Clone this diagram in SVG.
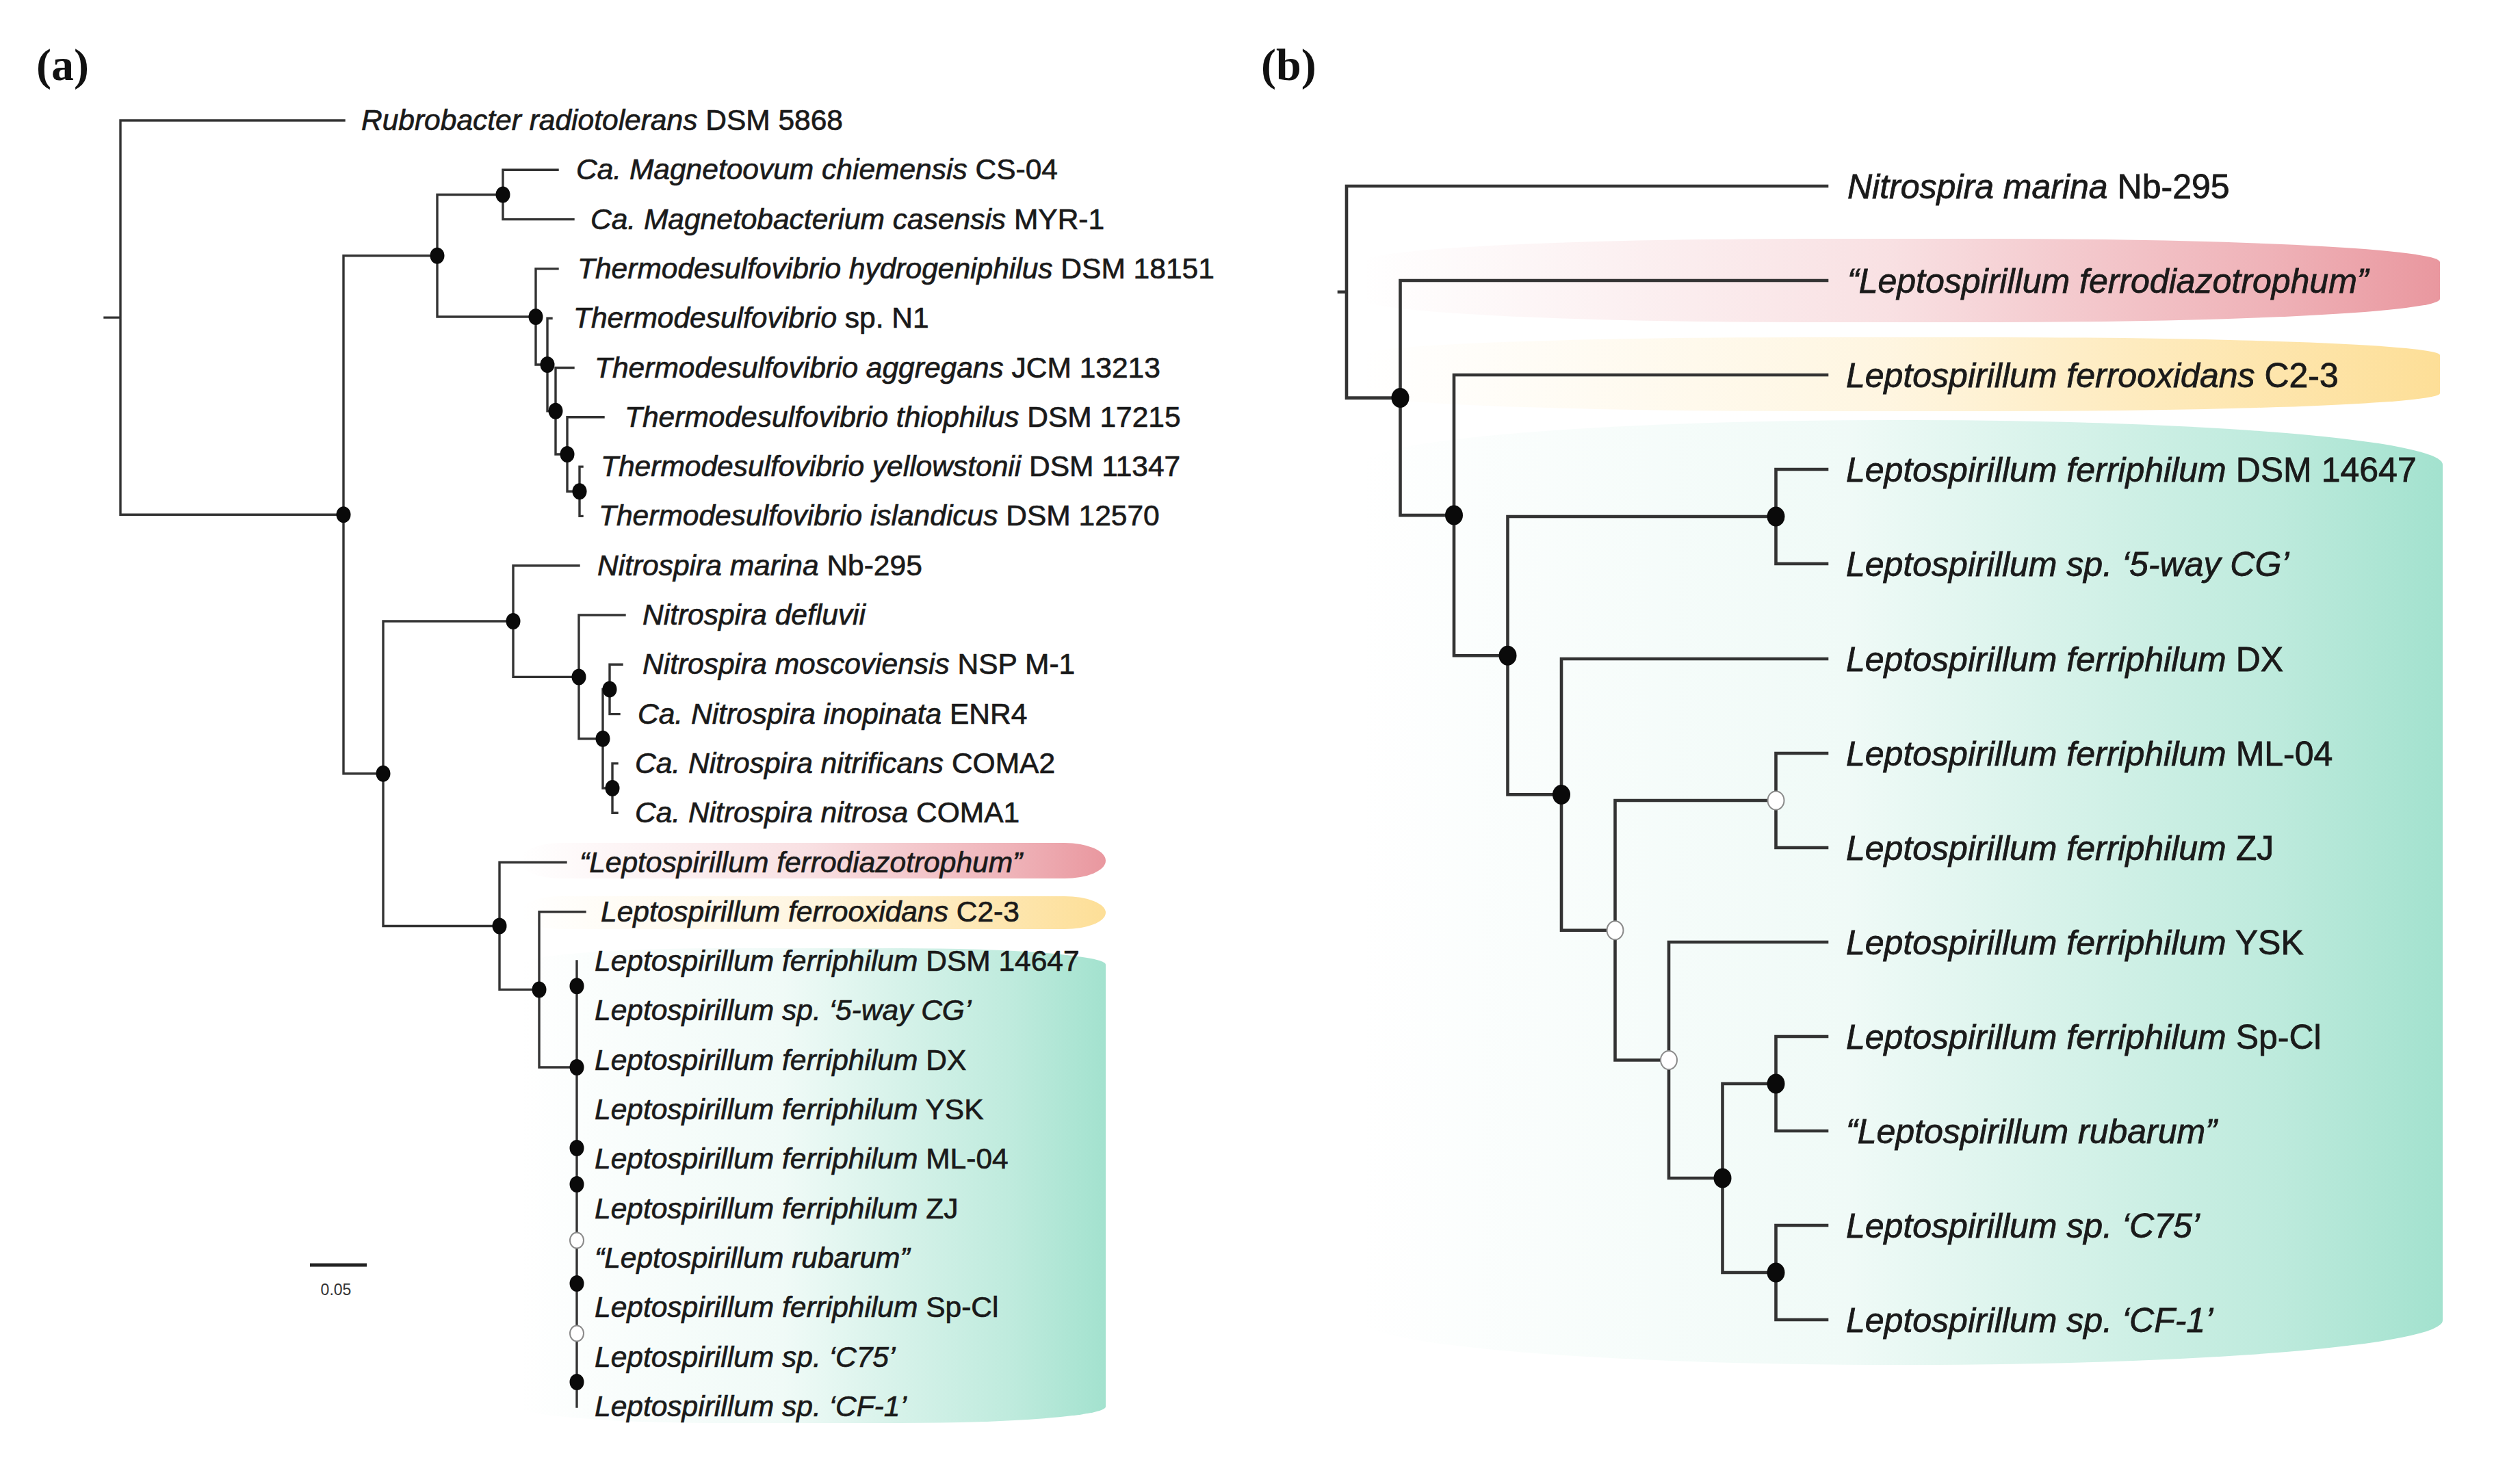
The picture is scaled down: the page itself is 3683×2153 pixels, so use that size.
<svg xmlns="http://www.w3.org/2000/svg" width="3683" height="2153" viewBox="0 0 3683 2153">
<style>
.br{fill:none;stroke:#333333;stroke-linecap:square}
.ba{stroke-width:3.4}
.bb{stroke-width:4.6}
.dot{fill:#0a0a0a}
.open{fill:#ffffff;stroke:#8a8a8a;stroke-width:2}
.la{font-family:"Liberation Sans",Arial,sans-serif;font-size:42.5px;font-style:italic;fill:#1a1a1a;stroke:#1a1a1a;stroke-width:0.7}
.lb{font-family:"Liberation Sans",Arial,sans-serif;font-size:50px;font-style:italic;fill:#1a1a1a;stroke:#1a1a1a;stroke-width:0.8}
.n{font-style:normal}
.pl{font-family:"Liberation Serif","Times New Roman",serif;font-size:66px;font-weight:bold;fill:#111}
.sc{font-family:"Liberation Sans",Arial,sans-serif;font-size:23px;fill:#333}
</style>
<defs>
<linearGradient id="gR" x1="0" y1="0" x2="1" y2="0">
<stop offset="0" stop-color="#e8929a" stop-opacity="0"/>
<stop offset="0.13" stop-color="#e8929a" stop-opacity="0.07"/>
<stop offset="0.49" stop-color="#e8929a" stop-opacity="0.28"/>
<stop offset="0.65" stop-color="#e8929a" stop-opacity="0.48"/>
<stop offset="0.84" stop-color="#e8929a" stop-opacity="0.7"/>
<stop offset="1" stop-color="#e8929a" stop-opacity="0.95"/>
</linearGradient>
<linearGradient id="gY" x1="0" y1="0" x2="1" y2="0">
<stop offset="0" stop-color="#fddd92" stop-opacity="0"/>
<stop offset="0.13" stop-color="#fddd92" stop-opacity="0.07"/>
<stop offset="0.49" stop-color="#fddd92" stop-opacity="0.28"/>
<stop offset="0.65" stop-color="#fddd92" stop-opacity="0.5"/>
<stop offset="0.84" stop-color="#fddd92" stop-opacity="0.75"/>
<stop offset="1" stop-color="#fddd92" stop-opacity="0.95"/>
</linearGradient>
<linearGradient id="gG" x1="0" y1="0" x2="1" y2="0">
<stop offset="0" stop-color="#a0e1cd" stop-opacity="0"/>
<stop offset="0.13" stop-color="#a0e1cd" stop-opacity="0.05"/>
<stop offset="0.45" stop-color="#a0e1cd" stop-opacity="0.16"/>
<stop offset="0.64" stop-color="#a0e1cd" stop-opacity="0.42"/>
<stop offset="0.84" stop-color="#a0e1cd" stop-opacity="0.68"/>
<stop offset="1" stop-color="#a0e1cd" stop-opacity="0.97"/>
</linearGradient>
</defs>
<rect x="0" y="0" width="3683" height="2153" fill="#ffffff"/>

<g id="bands">
<rect x="760" y="1232" width="856" height="52" rx="60" ry="26" fill="url(#gR)"/>
<rect x="760" y="1310" width="856" height="48" rx="60" ry="24" fill="url(#gY)"/>
<rect x="760" y="1386" width="856" height="694" rx="300" ry="24" fill="url(#gG)"/>
<rect x="1990" y="349" width="1576" height="122" rx="650" ry="34" fill="url(#gR)"/>
<rect x="1990" y="493" width="1576" height="108" rx="650" ry="26" fill="url(#gY)"/>
<rect x="1990" y="614" width="1580" height="1381" rx="780" ry="65" fill="url(#gG)"/>
</g>

<g id="panel-labels">
<text class="pl" x="53" y="117">(a)</text>
<text class="pl" x="1843" y="117">(b)</text>
</g>

<g id="connectors">
<path class="br ba" d="M153 464.1H176 M176 176V752.2 M176 176H503 M176 752.2H502 M502 373.7V1130.8 M502 373.7H639 M502 1130.8H560 M639 284.5V463 M639 284.5H735 M639 463H783 M735 248.3V320.6 M735 248.3H815 M735 320.6H838 M783 392.9V533 M783 392.9H815 M783 533H800 M800 465.2V600.8 M800 465.2H806 M800 600.8H812 M812 537.5V664 M812 537.5H838 M812 664H829 M829 609.8V718.3 M829 609.8H882 M829 718.3H847 M847 682.1V754.4 M847 682.1H851 M847 754.4H851 M560 908V1353.5 M560 908H750 M560 1353.5H730 M750 826.7V989.4 M750 826.7H846 M750 989.4H846 M846 899V1079.8 M846 899H913 M846 1079.8H881 M881 1007.5V1152 M881 1007.5H891 M881 1152H895 M891 971.3V1043.6 M891 971.3H909 M891 1043.6H905 M895 1115.9V1188.2 M895 1115.9H902 M895 1188.2H902 M730 1260.5V1446.4 M730 1260.5H827 M730 1446.4H788 M788 1332.8V1560 M788 1332.8H855 M788 1560H843 M843 1405V2056"/>
<path class="br bb" d="M1957 426.8H1968 M1968 272V581.6 M1968 272H2670 M1968 581.6H2046.5 M2046.5 410V753.1 M2046.5 410H2670 M2046.5 753.1H2125 M2125 548V958.2 M2125 548H2670 M2125 958.2H2203.5 M2203.5 755V1161.4 M2203.5 755H2595.5 M2203.5 1161.4H2282 M2595.5 686V824 M2595.5 686H2670 M2595.5 824H2670 M2282 963V1359.8 M2282 963H2670 M2282 1359.8H2360.5 M2360.5 1170V1549.5 M2360.5 1170H2595.5 M2360.5 1549.5H2439 M2595.5 1101V1239 M2595.5 1101H2670 M2595.5 1239H2670 M2439 1377V1722 M2439 1377H2670 M2439 1722H2517.5 M2517.5 1584V1860 M2517.5 1584H2595.5 M2517.5 1860H2595.5 M2595.5 1515V1653 M2595.5 1515H2670 M2595.5 1653H2670 M2595.5 1791V1929 M2595.5 1791H2670 M2595.5 1929H2670"/>
</g>

<g id="scale-bar">
<line x1="453" y1="1849" x2="536" y2="1849" stroke="#222" stroke-width="5"/>
<text class="sc" x="491" y="1893" text-anchor="middle">0.05</text>
</g>

<g id="internal-nodes-a">
<g id="a-A"><ellipse class="dot" cx="502" cy="752.2" rx="10.5" ry="12"/></g>
<g id="a-B"><ellipse class="dot" cx="639" cy="373.7" rx="10.5" ry="12"/></g>
<g id="a-C"><ellipse class="dot" cx="735" cy="284.5" rx="10.5" ry="12"/></g>
<g id="a-D"><ellipse class="dot" cx="783" cy="463" rx="10.5" ry="12"/></g>
<g id="a-E"><ellipse class="dot" cx="800" cy="533" rx="10.5" ry="12"/></g>
<g id="a-F"><ellipse class="dot" cx="812" cy="600.8" rx="10.5" ry="12"/></g>
<g id="a-G"><ellipse class="dot" cx="829" cy="664" rx="10.5" ry="12"/></g>
<g id="a-H"><ellipse class="dot" cx="847" cy="718.3" rx="10.5" ry="12"/></g>
<g id="a-I"><ellipse class="dot" cx="560" cy="1130.8" rx="10.5" ry="12"/></g>
<g id="a-J"><ellipse class="dot" cx="750" cy="908" rx="10.5" ry="12"/></g>
<g id="a-L"><ellipse class="dot" cx="846" cy="989.4" rx="10.5" ry="12"/></g>
<g id="a-M"><ellipse class="dot" cx="881" cy="1079.8" rx="10.5" ry="12"/></g>
<g id="a-N"><ellipse class="dot" cx="891" cy="1007.5" rx="10.5" ry="12"/></g>
<g id="a-O"><ellipse class="dot" cx="895" cy="1152" rx="10.5" ry="12"/></g>
<g id="a-K"><ellipse class="dot" cx="730" cy="1353.5" rx="10.5" ry="12"/></g>
<g id="a-P"><ellipse class="dot" cx="788" cy="1446.4" rx="10.5" ry="12"/></g>
<g id="a-Q"><ellipse class="dot" cx="843" cy="1560" rx="10.5" ry="12"/></g>
<g id="a-R"><ellipse class="dot" cx="843" cy="1441.3" rx="10.5" ry="12"/></g>
<g id="a-S"><ellipse class="dot" cx="843" cy="1678" rx="10.5" ry="12"/></g>
<g id="a-U"><ellipse class="dot" cx="843" cy="1731" rx="10.5" ry="12"/></g>
<g id="a-T"><ellipse class="open" cx="843" cy="1813" rx="10" ry="11.5"/></g>
<g id="a-V"><ellipse class="dot" cx="843" cy="1876" rx="10.5" ry="12"/></g>
<g id="a-X"><ellipse class="open" cx="843" cy="1949" rx="10" ry="11.5"/></g>
<g id="a-W"><ellipse class="dot" cx="843" cy="2020" rx="10.5" ry="12"/></g>
</g>

<g id="internal-nodes-b">
<g id="b-B1"><ellipse class="dot" cx="2046.5" cy="581.6" rx="13" ry="14.5"/></g>
<g id="b-C1"><ellipse class="dot" cx="2125" cy="753.1" rx="13" ry="14.5"/></g>
<g id="b-D1"><ellipse class="dot" cx="2203.5" cy="958.2" rx="13" ry="14.5"/></g>
<g id="b-E1"><ellipse class="dot" cx="2595.5" cy="755" rx="13" ry="14.5"/></g>
<g id="b-F1"><ellipse class="dot" cx="2282" cy="1161.4" rx="13" ry="14.5"/></g>
<g id="b-G1"><ellipse class="open" cx="2360.5" cy="1359.8" rx="12" ry="13.5"/></g>
<g id="b-H1"><ellipse class="open" cx="2595.5" cy="1170" rx="12" ry="13.5"/></g>
<g id="b-I1"><ellipse class="open" cx="2439" cy="1549.5" rx="12" ry="13.5"/></g>
<g id="b-J1"><ellipse class="dot" cx="2517.5" cy="1722" rx="13" ry="14.5"/></g>
<g id="b-K1"><ellipse class="dot" cx="2595.5" cy="1584" rx="13" ry="14.5"/></g>
<g id="b-L1"><ellipse class="dot" cx="2595.5" cy="1860" rx="13" ry="14.5"/></g>
</g>

<g id="leaves-a">
<g id="a-leaf-0"><text class="la" x="528" y="190">Rubrobacter radiotolerans<tspan class="n"> DSM 5868</tspan></text></g>
<g id="a-leaf-1"><text class="la" x="842" y="262.3">Ca. Magnetoovum chiemensis<tspan class="n"> CS-04</tspan></text></g>
<g id="a-leaf-2"><text class="la" x="863" y="334.6">Ca. Magnetobacterium casensis<tspan class="n"> MYR-1</tspan></text></g>
<g id="a-leaf-3"><text class="la" x="844" y="406.9">Thermodesulfovibrio hydrogeniphilus<tspan class="n"> DSM 18151</tspan></text></g>
<g id="a-leaf-4"><text class="la" x="838" y="479.2">Thermodesulfovibrio<tspan class="n"> sp. N1</tspan></text></g>
<g id="a-leaf-5"><text class="la" x="869" y="551.5">Thermodesulfovibrio aggregans<tspan class="n"> JCM 13213</tspan></text></g>
<g id="a-leaf-6"><text class="la" x="913" y="623.8">Thermodesulfovibrio thiophilus<tspan class="n"> DSM 17215</tspan></text></g>
<g id="a-leaf-7"><text class="la" x="878" y="696.1">Thermodesulfovibrio yellowstonii<tspan class="n"> DSM 11347</tspan></text></g>
<g id="a-leaf-8"><text class="la" x="875" y="768.4">Thermodesulfovibrio islandicus<tspan class="n"> DSM 12570</tspan></text></g>
<g id="a-leaf-9"><text class="la" x="873" y="840.7">Nitrospira marina<tspan class="n"> Nb-295</tspan></text></g>
<g id="a-leaf-10"><text class="la" x="939" y="913">Nitrospira defluvii</text></g>
<g id="a-leaf-11"><text class="la" x="939" y="985.3">Nitrospira moscoviensis<tspan class="n"> NSP M-1</tspan></text></g>
<g id="a-leaf-12"><text class="la" x="932" y="1057.6">Ca. Nitrospira inopinata<tspan class="n"> ENR4</tspan></text></g>
<g id="a-leaf-13"><text class="la" x="928" y="1129.9">Ca. Nitrospira nitrificans<tspan class="n"> COMA2</tspan></text></g>
<g id="a-leaf-14"><text class="la" x="928" y="1202.2">Ca. Nitrospira nitrosa<tspan class="n"> COMA1</tspan></text></g>
<g id="a-leaf-15"><text class="la" x="847" y="1274.5">“Leptospirillum ferrodiazotrophum”</text></g>
<g id="a-leaf-16"><text class="la" x="878" y="1346.8">Leptospirillum ferrooxidans<tspan class="n"> C2-3</tspan></text></g>
<g id="a-leaf-17"><text class="la" x="869" y="1419.1">Leptospirillum ferriphilum<tspan class="n"> DSM 14647</tspan></text></g>
<g id="a-leaf-18"><text class="la" x="869" y="1491.4">Leptospirillum sp. ‘5-way CG’</text></g>
<g id="a-leaf-19"><text class="la" x="869" y="1563.7">Leptospirillum ferriphilum<tspan class="n"> DX</tspan></text></g>
<g id="a-leaf-20"><text class="la" x="869" y="1636">Leptospirillum ferriphilum<tspan class="n"> YSK</tspan></text></g>
<g id="a-leaf-21"><text class="la" x="869" y="1708.3">Leptospirillum ferriphilum<tspan class="n"> ML-04</tspan></text></g>
<g id="a-leaf-22"><text class="la" x="869" y="1780.6">Leptospirillum ferriphilum<tspan class="n"> ZJ</tspan></text></g>
<g id="a-leaf-23"><text class="la" x="869" y="1852.9">“Leptospirillum rubarum”</text></g>
<g id="a-leaf-24"><text class="la" x="869" y="1925.2">Leptospirillum ferriphilum<tspan class="n"> Sp-Cl</tspan></text></g>
<g id="a-leaf-25"><text class="la" x="869" y="1997.5">Leptospirillum sp. ‘C75’</text></g>
<g id="a-leaf-26"><text class="la" x="869" y="2069.8">Leptospirillum sp. ‘CF-1’</text></g>
</g>

<g id="leaves-b">
<g id="b-leaf-0"><text class="lb" x="2700" y="290">Nitrospira marina<tspan class="n"> Nb-295</tspan></text></g>
<g id="b-leaf-1"><text class="lb" x="2700" y="428">“Leptospirillum ferrodiazotrophum”</text></g>
<g id="b-leaf-2"><text class="lb" x="2698" y="566">Leptospirillum ferrooxidans<tspan class="n"> C2-3</tspan></text></g>
<g id="b-leaf-3"><text class="lb" x="2698" y="704">Leptospirillum ferriphilum<tspan class="n"> DSM 14647</tspan></text></g>
<g id="b-leaf-4"><text class="lb" x="2698" y="842">Leptospirillum sp. ‘5-way CG’</text></g>
<g id="b-leaf-5"><text class="lb" x="2698" y="981">Leptospirillum ferriphilum<tspan class="n"> DX</tspan></text></g>
<g id="b-leaf-6"><text class="lb" x="2698" y="1119">Leptospirillum ferriphilum<tspan class="n"> ML-04</tspan></text></g>
<g id="b-leaf-7"><text class="lb" x="2698" y="1257">Leptospirillum ferriphilum<tspan class="n"> ZJ</tspan></text></g>
<g id="b-leaf-8"><text class="lb" x="2698" y="1395">Leptospirillum ferriphilum<tspan class="n"> YSK</tspan></text></g>
<g id="b-leaf-9"><text class="lb" x="2698" y="1533">Leptospirillum ferriphilum<tspan class="n"> Sp-Cl</tspan></text></g>
<g id="b-leaf-10"><text class="lb" x="2698" y="1671">“Leptospirillum rubarum”</text></g>
<g id="b-leaf-11"><text class="lb" x="2698" y="1809">Leptospirillum sp. ‘C75’</text></g>
<g id="b-leaf-12"><text class="lb" x="2698" y="1947">Leptospirillum sp. ‘CF-1’</text></g>
</g>
</svg>
